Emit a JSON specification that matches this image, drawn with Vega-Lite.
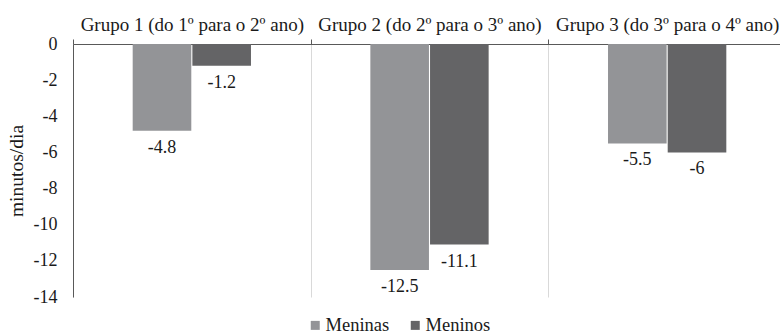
{
  "$schema": "https://vega.github.io/schema/vega-lite/v6.json",
  "autosize": {"type": "none"},
  "width": 713,
  "height": 253,
  "padding": {"left": 73, "top": 44, "right": 0, "bottom": 38},
  "background": "white",
  "config": {
    "view": {"stroke": null},
    "font": "Liberation Serif, serif"
  },
  "data": {
    "values": [
      {"grupo": "Grupo 1 (do 1º para o 2º ano)", "sexo": "Meninas", "valor": -4.8},
      {"grupo": "Grupo 1 (do 1º para o 2º ano)", "sexo": "Meninos", "valor": -1.2},
      {"grupo": "Grupo 2 (do 2º para o 3º ano)", "sexo": "Meninas", "valor": -12.5},
      {"grupo": "Grupo 2 (do 2º para o 3º ano)", "sexo": "Meninos", "valor": -11.1},
      {"grupo": "Grupo 3 (do 3º para o 4º ano)", "sexo": "Meninas", "valor": -5.5},
      {"grupo": "Grupo 3 (do 3º para o 4º ano)", "sexo": "Meninos", "valor": -6}
    ]
  },
  "encoding": {
    "x": {
      "field": "grupo", "type": "nominal", "title": null,
      "scale": {"paddingInner": 0, "paddingOuter": 0},
      "axis": {
        "orient": "top", "labelAngle": 0, "labelFontSize": 19, "labelColor": "#1a1a1a",
        "labelFont": "Liberation Serif, serif",
        "labelPadding": 5, "labelLimit": 0,
        "tickBand": "extent", "tickSize": 5, "tickColor": "#595959",
        "domainColor": "#595959", "grid": true, "gridColor": "#d9d9d9"
      }
    },
    "xOffset": {"field": "sexo", "type": "nominal", "scale": {"paddingOuter": 1.09, "paddingInner": 0.018}},
    "y": {
      "field": "valor", "type": "quantitative", "title": "minutos/dia",
      "scale": {"domain": [-14, 0], "nice": false},
      "axis": {
        "values": [0, -2, -4, -6, -8, -10, -12, -14], "ticks": false, "grid": false,
        "labelExpr": "replace(datum.label, '−', '-')",
        "labelFont": "Liberation Serif, serif", "titleFont": "Liberation Serif, serif",
        "labelFontSize": 18, "labelColor": "#1a1a1a", "labelPadding": 16,
        "domainColor": "#595959", "titleFontSize": 19.5, "titleFontWeight": "normal",
        "titleColor": "#1a1a1a", "titlePadding": 7
      }
    }
  },
  "layer": [
    {
      "mark": {"type": "bar"},
      "encoding": {
        "color": {
          "field": "sexo", "type": "nominal", "title": null,
          "scale": {"domain": ["Meninas", "Meninos"], "range": ["#939497", "#646466"]},
          "legend": {
            "orient": "none", "legendX": 233, "legendY": 272, "direction": "horizontal",
            "symbolType": "square", "symbolSize": 81, "labelFontSize": 18.5,
            "labelFont": "Liberation Serif, serif", "symbolStrokeWidth": 0,
            "labelColor": "#1a1a1a", "columnPadding": 16, "labelOffset": 1
          }
        }
      }
    },
    {
      "mark": {"type": "text", "baseline": "top", "dy": 8, "fontSize": 18, "color": "#1a1a1a", "font": "Liberation Serif, serif"},
      "encoding": {"text": {"field": "valor", "type": "nominal"}}
    }
  ]
}
